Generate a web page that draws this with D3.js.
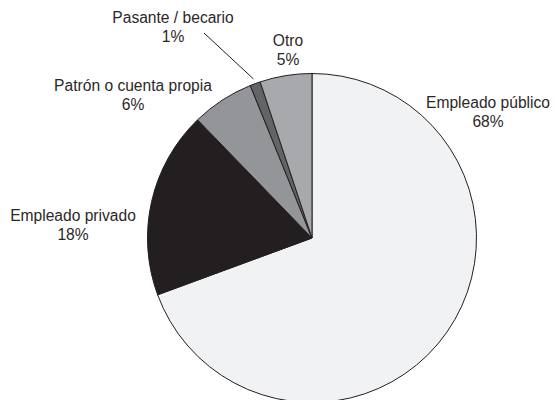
<!DOCTYPE html>
<html>
<head>
<meta charset="utf-8">
<script src="https://cdn.jsdelivr.net/npm/d3@7"></script>
<style>
  html, body { margin: 0; padding: 0; background: #fff; }
  svg { display: block; }
  text { font-family: "Liberation Sans", Arial, Helvetica, sans-serif; fill: #2b2829; }
</style>
</head>
<body>
<svg id="chart" width="554" height="400"></svg>
<script>
// Employment categories, clockwise from 12 o'clock
const categories = ["Empleado público", "Empleado privado", "Patrón o cuenta propia", "Pasante / becario", "Otro"];
const percents = [68, 18, 6, 1, 5];
const sliceColors = ["#f1f2f4", "#231f20", "#939598", "#636466", "#a7a9ac"];

// Label placement: centre x and first baseline y for each category
const labelX = [488, 73, 133, 173, 288];
const labelY = [108, 221, 91, 23, 46];

const width = 554, height = 400;
const cx = 312, cy = 238, radius = 164.5;

const svg = d3.select("#chart");

const rows = categories.map((c, i) => ({ name: c, value: percents[i], color: sliceColors[i], lx: labelX[i], ly: labelY[i] }));

const pie = d3.pie().sort(null).value(d => d.value);
const arc = d3.arc().innerRadius(0).outerRadius(radius);
const arcs = pie(rows);

const g = svg.append("g").attr("transform", `translate(${cx},${cy})`);

g.selectAll("path.slice")
  .data(arcs)
  .join("path")
  .attr("class", "slice")
  .attr("d", arc)
  .attr("fill", d => d.data.color)
  .attr("stroke", "#231f20")
  .attr("stroke-width", 1)
  .attr("stroke-linejoin", "round");

// Leader line for the thin slice
const thin = arcs[3];
const outerPt = d3.arc().innerRadius(radius + 5).outerRadius(radius + 5).centroid(thin);
svg.append("line")
  .attr("x1", 204).attr("y1", 33)
  .attr("x2", cx + outerPt[0]).attr("y2", cy + outerPt[1])
  .attr("stroke", "#231f20")
  .attr("stroke-width", 1);

const labels = svg.selectAll("text.lbl")
  .data(rows)
  .join("text")
  .attr("class", "lbl")
  .attr("text-anchor", "middle")
  .attr("font-size", "15.6px");

labels.append("tspan")
  .attr("x", d => d.lx)
  .attr("y", d => d.ly)
  .text(d => d.name);

labels.append("tspan")
  .attr("x", d => d.lx)
  .attr("y", d => d.ly + 19)
  .text(d => d.value + "%");
</script>
</body>
</html>
